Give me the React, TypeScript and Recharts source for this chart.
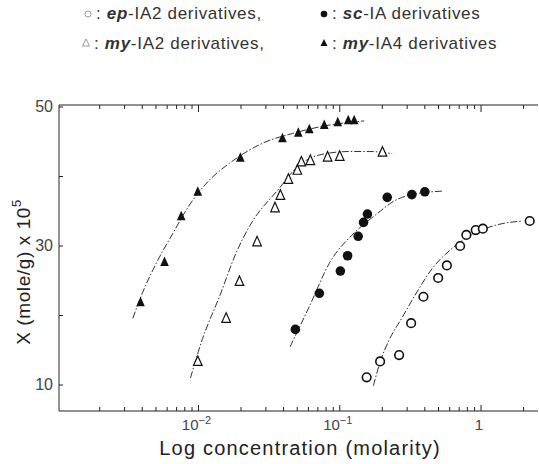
import React from 'react'
import { ComposedChart, Line, Scatter, XAxis, YAxis } from 'recharts'

// measured points, conc = molarity, val = X (mole/g) x 10^5
const epIA2 = [
  { conc: 0.155, val: 11.1 },
  { conc: 0.193, val: 13.4 },
  { conc: 0.263, val: 14.3 },
  { conc: 0.32, val: 18.9 },
  { conc: 0.391, val: 22.7 },
  { conc: 0.497, val: 25.4 },
  { conc: 0.573, val: 27.2 },
  { conc: 0.711, val: 30.0 },
  { conc: 0.787, val: 31.6 },
  { conc: 0.917, val: 32.3 },
  { conc: 1.03, val: 32.5 },
  { conc: 2.21, val: 33.6 },
]

const scIA = [
  { conc: 0.0485, val: 18.0 },
  { conc: 0.0717, val: 23.2 },
  { conc: 0.101, val: 26.4 },
  { conc: 0.1136, val: 28.6 },
  { conc: 0.135, val: 31.4 },
  { conc: 0.1473, val: 33.4 },
  { conc: 0.157, val: 34.6 },
  { conc: 0.2168, val: 37.0 },
  { conc: 0.3238, val: 37.4 },
  { conc: 0.4, val: 37.8 },
]

const myIA2 = [
  { conc: 0.00989, val: 13.4 },
  { conc: 0.0157, val: 19.6 },
  { conc: 0.0195, val: 24.9 },
  { conc: 0.026, val: 30.6 },
  { conc: 0.0348, val: 35.5 },
  { conc: 0.038, val: 37.3 },
  { conc: 0.0433, val: 39.6 },
  { conc: 0.0501, val: 40.9 },
  { conc: 0.0535, val: 42.1 },
  { conc: 0.0619, val: 42.3 },
  { conc: 0.082, val: 42.8 },
  { conc: 0.1, val: 42.9 },
  { conc: 0.2006, val: 43.5 },
]

const myIA4 = [
  { conc: 0.00389, val: 21.9 },
  { conc: 0.00575, val: 27.7 },
  { conc: 0.00755, val: 34.3 },
  { conc: 0.00989, val: 37.8 },
  { conc: 0.0198, val: 42.7 },
  { conc: 0.0393, val: 45.5 },
  { conc: 0.0509, val: 46.3 },
  { conc: 0.0609, val: 46.8 },
  { conc: 0.0777, val: 47.4 },
  { conc: 0.0968, val: 47.8 },
  { conc: 0.1148, val: 48.1 },
  { conc: 0.1265, val: 48.1 },
]

// hand-drawn fitted curves
const fitEpIA2 = [
  { conc: 0.173, val: 9.9 },
  { conc: 0.193, val: 13.3 },
  { conc: 0.224, val: 16.5 },
  { conc: 0.278, val: 19.8 },
  { conc: 0.336, val: 22.7 },
  { conc: 0.453, val: 26.8 },
  { conc: 0.627, val: 29.7 },
  { conc: 0.868, val: 31.7 },
  { conc: 1.27, val: 33.0 },
  { conc: 1.96, val: 33.6 },
]

const fitScIA = [
  { conc: 0.0445, val: 15.5 },
  { conc: 0.0609, val: 21.3 },
  { conc: 0.0843, val: 27.5 },
  { conc: 0.13, val: 32.1 },
  { conc: 0.18, val: 34.5 },
  { conc: 0.249, val: 36.6 },
  { conc: 0.325, val: 37.4 },
  { conc: 0.533, val: 37.9 },
]

const fitMyIA2 = [
  { conc: 0.00877, val: 11.0 },
  { conc: 0.0107, val: 16.7 },
  { conc: 0.01407, val: 22.7 },
  { conc: 0.01846, val: 29.0 },
  { conc: 0.0229, val: 32.8 },
  { conc: 0.0373, val: 38.3 },
  { conc: 0.049, val: 41.2 },
  { conc: 0.0716, val: 43.1 },
  { conc: 0.1167, val: 43.6 },
  { conc: 0.1616, val: 43.6 },
  { conc: 0.235, val: 43.3 },
]

const fitMyIA4 = [
  { conc: 0.00343, val: 19.6 },
  { conc: 0.00404, val: 23.4 },
  { conc: 0.00502, val: 27.5 },
  { conc: 0.00658, val: 31.8 },
  { conc: 0.00863, val: 35.9 },
  { conc: 0.01197, val: 39.5 },
  { conc: 0.01656, val: 41.9 },
  { conc: 0.0285, val: 44.8 },
  { conc: 0.0464, val: 46.2 },
  { conc: 0.0843, val: 47.4 },
  { conc: 0.149, val: 48.0 },
]

const majorX = [0.01, 0.1, 1]
const majorXLabels: Record<string, [string, string]> = {
  '0.01': ['10', '−2'],
  '0.1': ['10', '−1'],
  '1': ['1', ''],
}
const minorX = [
  0.002, 0.003, 0.004, 0.005, 0.006, 0.007, 0.008, 0.009,
  0.02, 0.03, 0.04, 0.05, 0.06, 0.07, 0.08, 0.09,
  0.2, 0.3, 0.4, 0.5, 0.6, 0.7, 0.8, 0.9, 2,
]
const yTicks = [10, 20, 30, 40, 50]
const yLabeled = [10, 30, 50]

const W = 539
const H = 464
const PLOT_L = 59
const PLOT_T = 105
const PLOT_B = 411
const PLOT_R = 538
const INK = '#222'
const FONT = '"Liberation Sans", Arial, sans-serif'

const xTicks = [...majorX, ...minorX].sort((a, b) => a - b)

const BottomTick = (props: any) => {
  const { x, payload } = props
  const v = payload.value
  const major = majorX.includes(v)
  const lab = majorXLabels[String(v)]
  return (
    <g>
      <line x1={x} x2={x} y1={PLOT_B} y2={PLOT_B - (major ? 6 : 4)} stroke={INK} strokeWidth={1} />
      {major && lab && (
        <text x={x - 2} y={PLOT_B + 19} textAnchor="middle" fontSize={15} fill="#444" fontFamily={FONT}>
          {lab[0]}
          {lab[1] && (
            <tspan dy={-6} fontSize={11}>
              {lab[1]}
            </tspan>
          )}
        </text>
      )}
    </g>
  )
}

const TopTick = (props: any) => {
  const { x, payload } = props
  const major = majorX.includes(payload.value)
  return <line x1={x} x2={x} y1={PLOT_T} y2={PLOT_T + (major ? 7 : 4)} stroke={INK} strokeWidth={1} />
}

const LeftTick = (props: any) => {
  const { y, payload } = props
  const v = payload.value
  return (
    <g>
      <line x1={PLOT_L} x2={PLOT_L + 4} y1={y} y2={y} stroke={INK} strokeWidth={1} />
      {yLabeled.includes(v) && (
        <text x={PLOT_L - 6} y={y + 5} textAnchor="end" fontSize={16} fill="#444" fontFamily={FONT}>
          {v}
        </text>
      )}
    </g>
  )
}

const HollowCircle = (p: any) => (
  <circle cx={p.cx} cy={p.cy} r={4.3} fill="#fff" stroke="#111" strokeWidth={1.6} />
)
const FilledCircle = (p: any) => <circle cx={p.cx} cy={p.cy} r={4.8} fill="#111" />
const tri = (cx: number, cy: number) =>
  `${cx},${cy - 5.5} ${cx - 4.3},${cy + 4} ${cx + 4.3},${cy + 4}`
const HollowTri = (p: any) => (
  <polygon points={tri(p.cx, p.cy)} fill="#fff" stroke="#111" strokeWidth={1.2} />
)
const FilledTri = (p: any) => <polygon points={tri(p.cx, p.cy)} fill="#111" />

const fitStyle = {
  stroke: '#333',
  strokeWidth: 1,
  strokeDasharray: '7 2 1.5 2',
}

const LegendItem = ({ x, y, sym, tag, rest }: any) => (
  <g>
    {sym === 'oc' && <circle cx={x} cy={y - 5} r={3} fill="#fff" stroke="#999" strokeWidth={1} />}
    {sym === 'fc' && <circle cx={x} cy={y - 5} r={3.3} fill="#111" />}
    {sym === 'ot' && (
      <polygon points={`${x},${y - 10} ${x - 3.5},${y - 3} ${x + 3.5},${y - 3}`} fill="#fff" stroke="#999" strokeWidth={1} />
    )}
    {sym === 'ft' && <polygon points={`${x},${y - 10} ${x - 3.5},${y - 3} ${x + 3.5},${y - 3}`} fill="#111" />}
    <text x={x + 8} y={y} fontSize={17} letterSpacing={0.7} fill="#333" fontFamily={FONT}>
      {': '}
      <tspan fontStyle="italic" fontWeight="bold">
        {tag}
      </tspan>
      {rest}
    </text>
  </g>
)

export default function App() {
  return (
    <div style={{ position: 'absolute', left: 0, top: 0, width: W, height: H, background: '#fff' }}>
      <ComposedChart
        width={W}
        height={H}
        margin={{ top: PLOT_T - 1, right: W - PLOT_R, bottom: H - PLOT_B - 1, left: PLOT_L - 1 }}
      >
        <XAxis
          dataKey="conc"
          type="number"
          scale="log"
          domain={[0.00103, 2.53]}
          allowDataOverflow
          ticks={xTicks}
          interval={0}
          height={1}
          tickLine={false}
          axisLine={{ stroke: INK, strokeWidth: 1 }}
          tick={<BottomTick />}
        />
        <XAxis
          xAxisId="top"
          orientation="top"
          dataKey="conc"
          type="number"
          scale="log"
          domain={[0.00103, 2.53]}
          allowDataOverflow
          ticks={xTicks}
          interval={0}
          height={1}
          tickLine={false}
          axisLine={{ stroke: INK, strokeWidth: 1 }}
          tick={<TopTick />}
        />
        <YAxis
          dataKey="val"
          type="number"
          domain={[6.26, 50.29]}
          allowDataOverflow
          ticks={yTicks}
          interval={0}
          width={1}
          tickLine={false}
          axisLine={{ stroke: INK, strokeWidth: 1 }}
          tick={<LeftTick />}
        />
        <Line data={fitMyIA4} dataKey="val" type="monotone" dot={false} {...fitStyle} isAnimationActive={false} />
        <Line data={fitMyIA2} dataKey="val" type="monotone" dot={false} {...fitStyle} isAnimationActive={false} />
        <Line data={fitScIA} dataKey="val" type="monotone" dot={false} {...fitStyle} isAnimationActive={false} />
        <Line data={fitEpIA2} dataKey="val" type="monotone" dot={false} {...fitStyle} isAnimationActive={false} />
        <Scatter data={myIA4} dataKey="val" shape={FilledTri} isAnimationActive={false} />
        <Scatter data={myIA2} dataKey="val" shape={HollowTri} isAnimationActive={false} />
        <Scatter data={scIA} dataKey="val" shape={FilledCircle} isAnimationActive={false} />
        <Scatter data={epIA2} dataKey="val" shape={HollowCircle} isAnimationActive={false} />
      </ComposedChart>
      <svg
        width={W}
        height={H}
        style={{ position: 'absolute', left: 0, top: 0, pointerEvents: 'none' }}
      >
        <LegendItem x={88} y={19} sym="oc" tag="ep" rest="-IA2 derivatives," />
        <LegendItem x={324} y={19} sym="fc" tag="sc" rest="-IA derivatives" />
        <LegendItem x={86} y={49} sym="ot" tag="my" rest="-IA2 derivatives," />
        <LegendItem x={324} y={49} sym="ft" tag="my" rest="-IA4 derivatives" />
        <text
          x={23}
          y={272}
          transform="rotate(-90 23 272)"
          textAnchor="middle"
          dominantBaseline="central"
          fontSize={19}
          letterSpacing={0.6}
          fill="#222"
          fontFamily={FONT}
        >
          X (mole/g) x 10
          <tspan dy={-7} fontSize={13}>
            5
          </tspan>
        </text>
        <text x={300} y={455} textAnchor="middle" fontSize={20} letterSpacing={1.2} fill="#222" fontFamily={FONT}>
          Log concentration (molarity)
        </text>
      </svg>
    </div>
  )
}
